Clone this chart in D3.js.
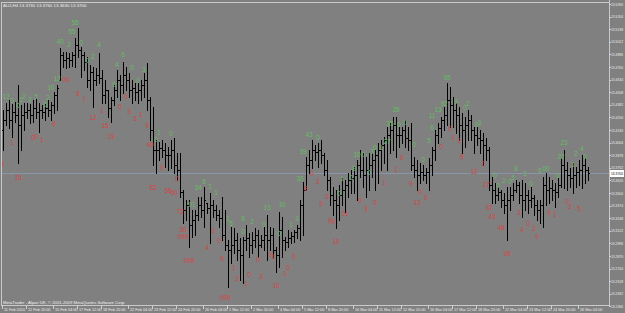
<!DOCTYPE html>
<html>
<head>
<meta charset="utf-8">
<script src="https://d3js.org/d3.v7.min.js"></script>
<style>
  html, body { margin: 0; padding: 0; background: #808080; overflow: hidden; }
  svg { display: block; }
</style>
</head>
<body>
<script>
// H4 bars (price)
const opens = [
  13.413, 13.423, 13.433, 13.423, 13.431, 13.428, 13.418, 13.428, 13.431, 13.433,
  13.428, 13.435, 13.431, 13.433, 13.431, 13.435, 13.433, 13.438, 13.448, 13.463,
  13.488, 13.483, 13.485, 13.483, 13.488, 13.498, 13.493, 13.488, 13.481, 13.463,
  13.471, 13.463, 13.468, 13.465, 13.448, 13.453, 13.435, 13.443, 13.453, 13.463,
  13.458, 13.468, 13.463, 13.453, 13.455, 13.451, 13.453, 13.458, 13.463, 13.443,
  13.413, 13.393, 13.393, 13.395, 13.393, 13.388, 13.388, 13.393, 13.378, 13.373,
  13.351, 13.333, 13.338, 13.318, 13.323, 13.328, 13.338, 13.333, 13.340, 13.335,
  13.338, 13.333, 13.328, 13.325, 13.308, 13.298, 13.293, 13.298, 13.303, 13.293,
  13.288, 13.303, 13.305, 13.298, 13.303, 13.308, 13.298, 13.303, 13.308, 13.303,
  13.308, 13.293, 13.288, 13.313, 13.303, 13.301, 13.305, 13.307, 13.311, 13.315,
  13.338, 13.353, 13.378, 13.383, 13.393, 13.391, 13.393, 13.388, 13.373, 13.363,
  13.348, 13.343, 13.338, 13.348, 13.353, 13.358, 13.363, 13.365, 13.368, 13.378,
  13.373, 13.368, 13.373, 13.378, 13.383, 13.388, 13.393, 13.398, 13.403, 13.408,
  13.413, 13.418, 13.408, 13.408, 13.413, 13.405, 13.403, 13.378, 13.373, 13.368,
  13.371, 13.368, 13.371, 13.378, 13.393, 13.408, 13.415, 13.423, 13.428, 13.443,
  13.438, 13.433, 13.428, 13.418, 13.413, 13.418, 13.423, 13.413, 13.408, 13.405,
  13.403, 13.398, 13.393, 13.358, 13.353, 13.348, 13.351, 13.343, 13.338, 13.343,
  13.348, 13.353, 13.358, 13.348, 13.343, 13.348, 13.343, 13.345, 13.338, 13.333,
  13.338, 13.358, 13.353, 13.355, 13.353, 13.351, 13.358, 13.378, 13.373, 13.368,
  13.365, 13.368, 13.371, 13.373, 13.378, 13.373
];
const highs = [
  13.433, 13.440, 13.443, 13.439, 13.441, 13.458, 13.438, 13.440, 13.440, 13.439,
  13.443, 13.445, 13.440, 13.438, 13.439, 13.443, 13.441, 13.451, 13.458, 13.495,
  13.491, 13.491, 13.490, 13.491, 13.505, 13.515, 13.496, 13.491, 13.486, 13.478,
  13.476, 13.475, 13.490, 13.473, 13.463, 13.453, 13.446, 13.458, 13.473, 13.468,
  13.481, 13.476, 13.470, 13.463, 13.460, 13.460, 13.463, 13.470, 13.480, 13.446,
  13.436, 13.403, 13.401, 13.403, 13.400, 13.396, 13.403, 13.405, 13.390, 13.390,
  13.353, 13.343, 13.343, 13.333, 13.333, 13.346, 13.346, 13.356, 13.340, 13.350,
  13.343, 13.338, 13.333, 13.346, 13.333, 13.303, 13.316, 13.315, 13.310, 13.305,
  13.306, 13.318, 13.310, 13.311, 13.315, 13.313, 13.308, 13.316, 13.328, 13.316,
  13.315, 13.296, 13.331, 13.326, 13.306, 13.313, 13.311, 13.313, 13.318, 13.343,
  13.361, 13.386, 13.393, 13.403, 13.398, 13.400, 13.403, 13.390, 13.383, 13.366,
  13.356, 13.353, 13.358, 13.365, 13.363, 13.370, 13.373, 13.376, 13.383, 13.393,
  13.390, 13.386, 13.390, 13.390, 13.393, 13.400, 13.403, 13.406, 13.416, 13.420,
  13.426, 13.426, 13.416, 13.416, 13.423, 13.416, 13.420, 13.386, 13.383, 13.380,
  13.378, 13.375, 13.385, 13.396, 13.413, 13.420, 13.426, 13.436, 13.460, 13.456,
  13.446, 13.440, 13.436, 13.430, 13.426, 13.433, 13.428, 13.416, 13.416, 13.413,
  13.410, 13.405, 13.396, 13.366, 13.360, 13.356, 13.353, 13.350, 13.356, 13.356,
  13.360, 13.363, 13.361, 13.363, 13.360, 13.353, 13.356, 13.348, 13.343, 13.343,
  13.366, 13.370, 13.366, 13.363, 13.360, 13.365, 13.385, 13.393, 13.381, 13.375,
  13.380, 13.376, 13.383, 13.388, 13.385, 13.376
];
const lows = [
  13.393, 13.418, 13.415, 13.406, 13.421, 13.380, 13.393, 13.413, 13.425, 13.420,
  13.421, 13.425, 13.411, 13.425, 13.423, 13.427, 13.423, 13.430, 13.433, 13.463,
  13.476, 13.475, 13.476, 13.477, 13.476, 13.486, 13.466, 13.473, 13.456, 13.453,
  13.436, 13.458, 13.460, 13.440, 13.440, 13.426, 13.421, 13.438, 13.446, 13.443,
  13.450, 13.453, 13.446, 13.440, 13.443, 13.440, 13.443, 13.446, 13.433, 13.403,
  13.378, 13.370, 13.383, 13.386, 13.376, 13.373, 13.375, 13.370, 13.363, 13.346,
  13.320, 13.323, 13.296, 13.306, 13.308, 13.323, 13.326, 13.316, 13.330, 13.300,
  13.326, 13.323, 13.316, 13.303, 13.293, 13.256, 13.280, 13.290, 13.283, 13.263,
  13.260, 13.293, 13.286, 13.290, 13.296, 13.286, 13.296, 13.293, 13.283, 13.293,
  13.285, 13.271, 13.276, 13.286, 13.293, 13.296, 13.300, 13.301, 13.305, 13.303,
  13.308, 13.353, 13.370, 13.375, 13.383, 13.376, 13.380, 13.368, 13.353, 13.338,
  13.328, 13.315, 13.323, 13.338, 13.331, 13.346, 13.350, 13.350, 13.343, 13.366,
  13.356, 13.346, 13.353, 13.366, 13.353, 13.360, 13.373, 13.380, 13.373, 13.390,
  13.393, 13.386, 13.396, 13.400, 13.396, 13.393, 13.373, 13.366, 13.353, 13.360,
  13.363, 13.360, 13.353, 13.368, 13.383, 13.400, 13.406, 13.413, 13.418, 13.416,
  13.416, 13.410, 13.403, 13.390, 13.396, 13.403, 13.403, 13.390, 13.398, 13.390,
  13.378, 13.383, 13.353, 13.340, 13.340, 13.343, 13.336, 13.330, 13.303, 13.333,
  13.343, 13.351, 13.340, 13.326, 13.333, 13.330, 13.336, 13.328, 13.323, 13.320,
  13.316, 13.338, 13.340, 13.343, 13.336, 13.346, 13.356, 13.355, 13.353, 13.356,
  13.350, 13.356, 13.358, 13.355, 13.360, 13.363
];
const closes = [
  13.423, 13.433, 13.423, 13.431, 13.428, 13.418, 13.428, 13.431, 13.433, 13.428,
  13.435, 13.431, 13.433, 13.431, 13.435, 13.433, 13.438, 13.448, 13.455, 13.488,
  13.483, 13.485, 13.483, 13.488, 13.498, 13.493, 13.488, 13.481, 13.463, 13.471,
  13.463, 13.468, 13.465, 13.448, 13.453, 13.435, 13.443, 13.453, 13.463, 13.458,
  13.468, 13.463, 13.453, 13.455, 13.451, 13.453, 13.458, 13.463, 13.443, 13.413,
  13.393, 13.393, 13.395, 13.393, 13.388, 13.388, 13.393, 13.378, 13.373, 13.351,
  13.333, 13.338, 13.318, 13.323, 13.328, 13.338, 13.333, 13.343, 13.335, 13.338,
  13.333, 13.328, 13.325, 13.308, 13.298, 13.293, 13.298, 13.303, 13.293, 13.288,
  13.303, 13.305, 13.298, 13.303, 13.308, 13.298, 13.303, 13.308, 13.303, 13.308,
  13.293, 13.288, 13.313, 13.303, 13.301, 13.305, 13.307, 13.311, 13.315, 13.338,
  13.353, 13.378, 13.383, 13.393, 13.391, 13.393, 13.388, 13.373, 13.363, 13.348,
  13.343, 13.338, 13.348, 13.353, 13.358, 13.363, 13.365, 13.368, 13.378, 13.373,
  13.368, 13.373, 13.378, 13.383, 13.388, 13.393, 13.398, 13.403, 13.408, 13.413,
  13.418, 13.408, 13.408, 13.413, 13.405, 13.403, 13.378, 13.373, 13.368, 13.371,
  13.368, 13.371, 13.378, 13.393, 13.408, 13.415, 13.423, 13.428, 13.443, 13.438,
  13.433, 13.428, 13.418, 13.413, 13.418, 13.423, 13.413, 13.408, 13.405, 13.403,
  13.398, 13.393, 13.358, 13.353, 13.348, 13.351, 13.343, 13.338, 13.343, 13.348,
  13.353, 13.358, 13.348, 13.343, 13.348, 13.343, 13.345, 13.338, 13.333, 13.338,
  13.358, 13.353, 13.355, 13.353, 13.351, 13.358, 13.378, 13.373, 13.368, 13.365,
  13.368, 13.371, 13.373, 13.378, 13.373, 13.370
];

// indicator counts printed above highs (green) and below lows (red)
const upBars = [1,3,5,6,7,9,11,14,15,16,18,19,22,23,24,26,28,30,32,37,38,40,43,45,47,51,52,56,63,65,
  67,69,71,75,76,80,80,83,87,88,92,93,96,98,99,100,102,105,112,113,116,117,118,120,122,123,124,126,128,129,
  131,132,134,137,140,142,143,143,145,147,148,151,154,155,158,159,164,165,167,169,170,171,174,176,179,181,185,186,187,190,
  191,193,194];
const upTexts = ["12","0","0","1","2","3","5","0","2","10","12","40","2","55","55","0","0","2","4","0",
  "4","6","0","0","3","0","1","0","01","34","6","1","1","1","5","0","6","2","0","13",
  "0","10","1","3","30","39","43","0","0","1","0","8","10","0","0","3","0","1","27","35",
  "35","0","0","0","0","5","6","11","13","92","95","9","0","2","0","1","0","0","2","0",
  "5","8","1","0","6","00","0","22","23","1","2","4","0"];
const upPrices = [13.447,13.443,13.438,13.444,13.447,13.444,13.447,13.439,13.446,13.456,
  13.465,13.502,13.499,13.512,13.521,13.501,13.483,13.487,13.499,13.459,
  13.479,13.489,13.476,13.463,13.474,13.404,13.411,13.410,13.339,13.356,
  13.362,13.357,13.351,13.325,13.320,13.312,13.325,13.322,13.319,13.336,
  13.310,13.339,13.319,13.325,13.365,13.392,13.409,13.406,13.350,13.365,
  13.366,13.375,13.389,13.389,13.371,13.392,13.396,13.396,13.402,13.420,
  13.434,13.419,13.421,13.399,13.384,13.403,13.416,13.428,13.434,13.440,
  13.466,13.442,13.436,13.440,13.419,13.421,13.368,13.358,13.363,13.362,
  13.366,13.375,13.370,13.360,13.373,13.375,13.368,13.387,13.401,13.379,
  13.390,13.395,13.387];

const dnBars = [0,3,5,10,11,13,17,21,25,27,30,33,34,36,39,41,42,44,46,48,
  49,50,53,55,57,58,59,60,60,62,68,70,72,73,74,77,78,81,82,85,
  86,89,90,91,94,95,97,101,103,105,106,108,109,110,111,114,119,121,124,127,
  131,133,136,138,139,141,146,149,150,152,153,157,160,161,162,163,166,168,172,173,
  175,177,178,182,184,188,189,192];
const dnTexts = ["1","1","15","0","0","1","8","00","5","7","12","1","15","19","0","0","3","5","1","9",
  "40","82","0","66","60","0","72","30","999","999","4","0","0","9","999","1","2","1","0","0",
  "3","0","1","10","1","0","0","8","0","2","5","0","8","9","10","01","0","3","0","1",
  "1","0","9","13","0","0","0","0","1","3","8","12","2","17","37","43","46","99","2","4",
  "0","2","9","0","1","0","2","5"];
const dnPrices = [13.380,13.401,13.366,13.406,13.407,13.404,13.420,13.464,13.450,13.444,
  13.426,13.433,13.418,13.407,13.437,13.447,13.432,13.425,13.429,13.418,
  13.399,13.356,13.376,13.353,13.351,13.365,13.332,13.314,13.307,13.283,
  13.296,13.313,13.303,13.285,13.246,13.276,13.265,13.260,13.269,13.284,
  13.267,13.289,13.287,13.258,13.270,13.276,13.287,13.355,13.370,13.362,
  13.340,13.347,13.323,13.322,13.302,13.330,13.343,13.335,13.341,13.361,
  13.374,13.386,13.360,13.341,13.352,13.346,13.397,13.415,13.406,13.403,
  13.387,13.372,13.380,13.359,13.336,13.327,13.316,13.290,13.331,13.314,
  13.320,13.315,13.307,13.331,13.329,13.342,13.337,13.335];

const priceTicks = [13.5390, 13.5264, 13.5138, 13.5012, 13.4886, 13.4760, 13.4634, 13.4508, 13.4382,
  13.4256, 13.4130, 13.4004, 13.3878, 13.3752, 13.3626, 13.3500, 13.3374, 13.3248, 13.3122,
  13.2996, 13.2870, 13.2744, 13.2618, 13.2492, 13.2366];

const timeLabels = ["11 Feb 2010","12 Feb 20:00","15 Feb 04:00","17 Feb 12:00","18 Feb 20:00","22 Feb 04:00",
  "23 Feb 12:00","24 Feb 20:00","26 Feb 04:00","1 Mar 12:00","2 Mar 20:00","4 Mar 04:00",
  "5 Mar 12:00","8 Mar 20:00","10 Mar 04:00","11 Mar 12:00","12 Mar 20:00","16 Mar 04:00",
  "17 Mar 12:00","18 Mar 20:00","22 Mar 04:00","23 Mar 12:00","24 Mar 20:00","26 Mar 04:00"];
const timeLabelBars = [0,8,17,25,33,42,50,58,67,75,83,92,100,108,117,125,133,142,150,158,167,175,183,192];

const symbol = "AUJ,H4";

const width = 625, height = 313;
const plotRight = 609, plotBottom = 305;
const font = "'Liberation Sans', Arial, sans-serif";

const svg = d3.select("body").append("svg")
    .attr("width", width)
    .attr("height", height);

svg.append("rect")
    .attr("width", width)
    .attr("height", height)
    .attr("fill", "#808080");

const x = d3.scaleLinear().domain([0, closes.length - 1]).range([3, 588]);
const y = d3.scaleLinear().domain([13.238, 13.540]).range([plotBottom, 3]);
const fmt = d3.format(".4f");

// bid line
const last = closes.length - 1;
svg.append("line")
    .attr("x1", 1).attr("x2", plotRight)
    .attr("y1", Math.round(y(closes[last])) + 0.5)
    .attr("y2", Math.round(y(closes[last])) + 0.5)
    .attr("stroke", "#8796ab")
    .attr("stroke-width", 1);

// OHLC bars
const bars = svg.append("g").attr("shape-rendering", "crispEdges").attr("fill", "#000");
closes.forEach((c, i) => {
    const bx = Math.round(x(i));
    const yh = Math.round(y(highs[i]));
    const yl = Math.round(y(lows[i]));
    bars.append("rect").attr("x", bx).attr("y", yh).attr("width", 1).attr("height", Math.max(1, yl - yh + 1));
    bars.append("rect").attr("x", bx - 1).attr("y", Math.round(y(opens[i]))).attr("width", 1).attr("height", 1);
    bars.append("rect").attr("x", bx + 1).attr("y", Math.round(y(c))).attr("width", 1).attr("height", 1);
});

// counts
function drawCounts(barsIdx, texts, prices, color) {
    svg.append("g")
        .selectAll("text")
        .data(texts)
        .enter()
        .append("text")
        .attr("x", (d, k) => x(barsIdx[k]))
        .attr("y", (d, k) => y(prices[k]))
        .attr("text-anchor", "middle")
        .attr("dominant-baseline", "central")
        .attr("font-family", font)
        .attr("font-size", "6.5px")
        .attr("fill", color)
        .text(d => d);
}
drawCounts(upBars, upTexts, upPrices, "#62be62");
drawCounts(dnBars, dnTexts, dnPrices, "#d44646");

// frame
const frame = svg.append("g").attr("stroke", "#c9c9c9").attr("stroke-width", 1).attr("shape-rendering", "crispEdges");
frame.append("line").attr("x1", 1.5).attr("x2", 1.5).attr("y1", 2).attr("y2", plotBottom + 1);
frame.append("line").attr("x1", 1).attr("x2", plotRight + 1).attr("y1", 2.5).attr("y2", 2.5);
frame.append("line").attr("x1", plotRight + 0.5).attr("x2", plotRight + 0.5).attr("y1", 0).attr("y2", plotBottom + 1);
frame.append("line").attr("x1", 1).attr("x2", plotRight + 1).attr("y1", plotBottom + 0.5).attr("y2", plotBottom + 0.5);

// price axis
const yAxis = svg.append("g");
yAxis.selectAll("line")
    .data(priceTicks)
    .enter()
    .append("line")
    .attr("x1", plotRight).attr("x2", plotRight + 2)
    .attr("y1", d => Math.round(y(d)) + 0.5)
    .attr("y2", d => Math.round(y(d)) + 0.5)
    .attr("stroke", "#d0d0d0");
yAxis.selectAll("text")
    .data(priceTicks)
    .enter()
    .append("text")
    .attr("x", plotRight + 2)
    .attr("y", d => Math.min(y(d), plotBottom + 1))
    .attr("dominant-baseline", "central")
    .attr("font-family", font)
    .attr("font-size", "4.2px")
    .attr("textLength", 12)
    .attr("lengthAdjust", "spacingAndGlyphs")
    .attr("fill", "#ececec")
    .text(d => fmt(d));

// current price box
const yc = Math.round(y(closes[last]));
svg.append("rect")
    .attr("x", plotRight + 1).attr("y", yc - 3)
    .attr("width", 14).attr("height", 7)
    .attr("fill", "#ffffff");
svg.append("text")
    .attr("x", plotRight + 2).attr("y", yc + 0.5)
    .attr("dominant-baseline", "central")
    .attr("font-family", font)
    .attr("font-size", "4.2px")
    .attr("textLength", 12)
    .attr("lengthAdjust", "spacingAndGlyphs")
    .attr("fill", "#000")
    .text(fmt(closes[last]));

// time axis
const xAxis = svg.append("g");
xAxis.selectAll("line")
    .data(timeLabelBars)
    .enter()
    .append("line")
    .attr("x1", d => Math.round(x(d)) - 0.5)
    .attr("x2", d => Math.round(x(d)) - 0.5)
    .attr("y1", plotBottom).attr("y2", plotBottom + 4)
    .attr("stroke", "#d0d0d0");
xAxis.selectAll("text")
    .data(timeLabels)
    .enter()
    .append("text")
    .attr("x", (d, k) => Math.round(x(timeLabelBars[k])) + 1)
    .attr("y", plotBottom + 5)
    .attr("dominant-baseline", "central")
    .attr("font-family", font)
    .attr("font-size", "3.8px")
    .attr("fill", "#ececec")
    .text(d => d);

// header and copyright
svg.append("text")
    .attr("x", 3).attr("y", 5)
    .attr("dominant-baseline", "central")
    .attr("font-family", font)
    .attr("font-size", "4.4px")
    .attr("fill", "#f0f0f0")
    .text(`${symbol}  ${fmt(opens[last])} ${fmt(highs[last])} ${fmt(lows[last])} ${fmt(closes[last])}`);

svg.append("text")
    .attr("x", 3).attr("y", plotBottom - 2.5)
    .attr("dominant-baseline", "central")
    .attr("font-family", font)
    .attr("font-size", "4.2px")
    .attr("fill", "#f0f0f0")
    .text("MetaTrader - Alpari UK, © 2001-2009 MetaQuotes Software Corp.");
</script>
</body>
</html>
